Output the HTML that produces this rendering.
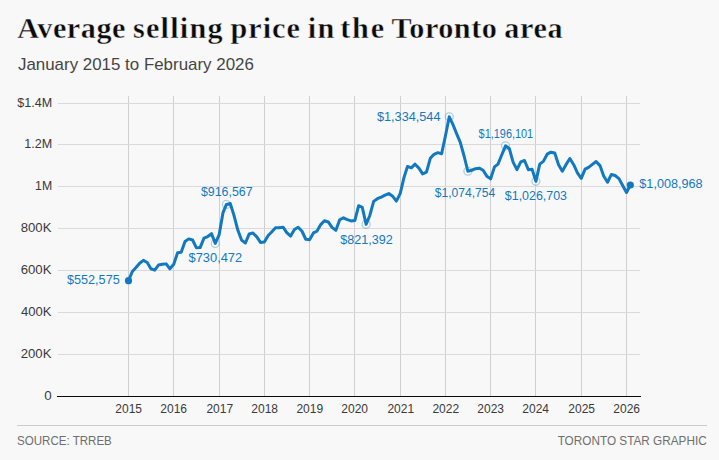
<!DOCTYPE html>
<html><head><meta charset="utf-8"><title>Average selling price in the Toronto area</title>
<style>
html,body{margin:0;padding:0;background:#f8f8f8;}
body{width:719px;height:460px;position:relative;overflow:hidden;font-family:"Liberation Sans",sans-serif;}
svg{position:absolute;left:0;top:0;display:block;}
svg text{white-space:pre;}
#rule{position:absolute;left:17px;top:425px;width:690px;height:1px;background:#cccccc;}
</style></head><body>
<svg width="719" height="460" viewBox="0 0 719 460">
<rect x="128" y="96" width="1" height="300" fill="#cfcfcf"/>
<rect x="173" y="96" width="1" height="300" fill="#cfcfcf"/>
<rect x="219" y="96" width="1" height="300" fill="#cfcfcf"/>
<rect x="264" y="96" width="1" height="300" fill="#cfcfcf"/>
<rect x="309" y="96" width="1" height="300" fill="#cfcfcf"/>
<rect x="354" y="96" width="1" height="300" fill="#cfcfcf"/>
<rect x="400" y="96" width="1" height="300" fill="#cfcfcf"/>
<rect x="445" y="96" width="1" height="300" fill="#cfcfcf"/>
<rect x="490" y="96" width="1" height="300" fill="#cfcfcf"/>
<rect x="535" y="96" width="1" height="300" fill="#cfcfcf"/>
<rect x="581" y="96" width="1" height="300" fill="#cfcfcf"/>
<rect x="626" y="96" width="1" height="300" fill="#cfcfcf"/>
<rect x="58" y="354" width="582" height="1" fill="#dadada"/>
<rect x="58" y="312" width="582" height="1" fill="#dadada"/>
<rect x="58" y="270" width="582" height="1" fill="#dadada"/>
<rect x="58" y="228" width="582" height="1" fill="#dadada"/>
<rect x="58" y="186" width="582" height="1" fill="#dadada"/>
<rect x="58" y="144" width="582" height="1" fill="#dadada"/>
<rect x="58" y="103" width="582" height="1" fill="#dadada"/>
<rect x="57" y="396" width="584" height="1" fill="#0a0a0a"/>
<text x="17.25" y="38.30" letter-spacing="0.517" stroke="#f8f8f8" stroke-width="0.4" font-family="Liberation Serif" font-size="30.2" font-weight="bold" fill="#0a0a0a">Average</text>
<text x="133.00" y="38.30" letter-spacing="1.217" stroke="#f8f8f8" stroke-width="0.4" font-family="Liberation Serif" font-size="30.2" font-weight="bold" fill="#0a0a0a">selling</text>
<text x="230.50" y="38.30" letter-spacing="1.000" stroke="#f8f8f8" stroke-width="0.4" font-family="Liberation Serif" font-size="30.2" font-weight="bold" fill="#0a0a0a">price</text>
<text x="307.75" y="38.30" letter-spacing="1.300" stroke="#f8f8f8" stroke-width="0.4" font-family="Liberation Serif" font-size="30.2" font-weight="bold" fill="#0a0a0a">in</text>
<text x="340.30" y="38.30" letter-spacing="1.750" stroke="#f8f8f8" stroke-width="0.4" font-family="Liberation Serif" font-size="30.2" font-weight="bold" fill="#0a0a0a">the</text>
<text x="391.50" y="38.30" letter-spacing="0.492" stroke="#f8f8f8" stroke-width="0.4" font-family="Liberation Serif" font-size="30.2" font-weight="bold" fill="#0a0a0a">Toronto</text>
<text x="504.20" y="38.30" letter-spacing="0.667" stroke="#f8f8f8" stroke-width="0.4" font-family="Liberation Serif" font-size="30.2" font-weight="bold" fill="#0a0a0a">area</text>
<text transform="translate(17.94,69.50) scale(1.0574,1)" font-family="Liberation Sans" font-size="16" fill="#454545">January 2015 to February 2026</text>
<text transform="translate(44.24,400.20) scale(1.1130,1)" font-family="Liberation Sans" font-size="12" fill="#3a3a3a">0</text>
<text transform="translate(20.75,358.20) scale(1.0972,1)" font-family="Liberation Sans" font-size="12" fill="#3a3a3a">200K</text>
<text transform="translate(21.03,316.20) scale(1.0873,1)" font-family="Liberation Sans" font-size="12" fill="#3a3a3a">400K</text>
<text transform="translate(20.75,274.20) scale(1.0972,1)" font-family="Liberation Sans" font-size="12" fill="#3a3a3a">600K</text>
<text transform="translate(20.75,232.20) scale(1.0972,1)" font-family="Liberation Sans" font-size="12" fill="#3a3a3a">800K</text>
<text transform="translate(35.08,190.20) scale(1.0237,1)" font-family="Liberation Sans" font-size="12" fill="#3a3a3a">1M</text>
<text transform="translate(24.25,148.20) scale(1.0465,1)" font-family="Liberation Sans" font-size="12" fill="#3a3a3a">1.2M</text>
<text transform="translate(17.24,107.20) scale(1.0450,1)" font-family="Liberation Sans" font-size="12" fill="#3a3a3a">$1.4M</text>
<text transform="translate(115.32,413.30) scale(1.0000,1)" font-family="Liberation Sans" font-size="12" fill="#3a3a3a">2015</text>
<text transform="translate(160.32,413.30) scale(1.0000,1)" font-family="Liberation Sans" font-size="12" fill="#3a3a3a">2016</text>
<text transform="translate(206.45,413.30) scale(1.0000,1)" font-family="Liberation Sans" font-size="12" fill="#3a3a3a">2017</text>
<text transform="translate(251.32,413.30) scale(1.0000,1)" font-family="Liberation Sans" font-size="12" fill="#3a3a3a">2018</text>
<text transform="translate(296.45,413.30) scale(1.0000,1)" font-family="Liberation Sans" font-size="12" fill="#3a3a3a">2019</text>
<text transform="translate(341.32,413.30) scale(1.0000,1)" font-family="Liberation Sans" font-size="12" fill="#3a3a3a">2020</text>
<text transform="translate(387.45,413.30) scale(1.0000,1)" font-family="Liberation Sans" font-size="12" fill="#3a3a3a">2021</text>
<text transform="translate(432.45,413.30) scale(1.0000,1)" font-family="Liberation Sans" font-size="12" fill="#3a3a3a">2022</text>
<text transform="translate(477.32,413.30) scale(1.0000,1)" font-family="Liberation Sans" font-size="12" fill="#3a3a3a">2023</text>
<text transform="translate(522.33,413.30) scale(1.0000,1)" font-family="Liberation Sans" font-size="12" fill="#3a3a3a">2024</text>
<text transform="translate(568.33,413.30) scale(1.0000,1)" font-family="Liberation Sans" font-size="12" fill="#3a3a3a">2025</text>
<text transform="translate(613.33,413.30) scale(1.0000,1)" font-family="Liberation Sans" font-size="12" fill="#3a3a3a">2026</text>
<text transform="translate(66.94,284.20) scale(1.0558,1)" font-family="Liberation Sans" font-size="12" fill="#1279c0">$552,575</text>
<text transform="translate(188.53,262.30) scale(1.0721,1)" font-family="Liberation Sans" font-size="12" fill="#1279c0">$730,472</text>
<text transform="translate(200.94,195.90) scale(1.0335,1)" font-family="Liberation Sans" font-size="12" fill="#1279c0">$916,567</text>
<text transform="translate(340.14,244.10) scale(1.0497,1)" font-family="Liberation Sans" font-size="12" fill="#1279c0">$821,392</text>
<text transform="translate(376.94,120.90) scale(1.0588,1)" font-family="Liberation Sans" font-size="12" fill="#1279c0">$1,334,544</text>
<text transform="translate(478.62,138.00) scale(0.9089,1)" font-family="Liberation Sans" font-size="12" fill="#1279c0">$1,196,101</text>
<text transform="translate(434.75,197.00) scale(1.0067,1)" font-family="Liberation Sans" font-size="12" fill="#1279c0">$1,074,754</text>
<text transform="translate(504.84,199.70) scale(1.0363,1)" font-family="Liberation Sans" font-size="12" fill="#1279c0">$1,026,703</text>
<text transform="translate(639.34,187.80) scale(1.0532,1)" font-family="Liberation Sans" font-size="12" fill="#1279c0">$1,008,968</text>
<text transform="translate(17.02,445.00) scale(0.9645,1)" font-family="Liberation Sans" font-size="12" fill="#6e6e6e">SOURCE: TRREB</text>
<text transform="translate(557.65,445.20) scale(0.9812,1)" font-family="Liberation Sans" font-size="12" fill="#6e6e6e">TORONTO STAR GRAPHIC</text>
<circle cx="215.26" cy="243.38" r="3.95" fill="#ffffff" fill-opacity="0.5" stroke="#1279c0" stroke-opacity="0.33" stroke-width="1.3"/>
<circle cx="226.41" cy="204.38" r="3.95" fill="#ffffff" fill-opacity="0.5" stroke="#1279c0" stroke-opacity="0.33" stroke-width="1.3"/>
<circle cx="366.10" cy="224.33" r="3.95" fill="#ffffff" fill-opacity="0.5" stroke="#1279c0" stroke-opacity="0.33" stroke-width="1.3"/>
<circle cx="449.26" cy="116.80" r="3.95" fill="#ffffff" fill-opacity="0.5" stroke="#1279c0" stroke-opacity="0.33" stroke-width="1.3"/>
<circle cx="467.85" cy="171.24" r="3.95" fill="#ffffff" fill-opacity="0.5" stroke="#1279c0" stroke-opacity="0.33" stroke-width="1.3"/>
<circle cx="505.53" cy="145.81" r="3.95" fill="#ffffff" fill-opacity="0.5" stroke="#1279c0" stroke-opacity="0.33" stroke-width="1.3"/>
<circle cx="535.90" cy="181.30" r="3.95" fill="#ffffff" fill-opacity="0.5" stroke="#1279c0" stroke-opacity="0.33" stroke-width="1.3"/>
<path d="M128.50,280.66L132.34,271.52L135.81,267.80L139.65,263.19L143.37,260.33L147.22,262.51L150.93,268.78L154.78,270.17L158.62,264.98L162.34,264.25L166.18,263.87L169.90,268.81L173.74,264.20L177.58,252.85L181.18,252.24L185.02,241.58L188.74,238.89L192.58,240.01L196.30,247.71L200.14,247.58L203.98,238.08L207.70,236.57L211.54,233.70L215.26,243.38L219.10,234.94L222.94,212.89L226.41,204.38L230.26,203.50L233.97,215.42L237.82,230.09L241.54,240.08L245.38,243.00L249.22,233.93L252.94,232.98L256.78,236.82L260.50,242.43L264.34,242.06L268.18,235.55L271.65,232.05L275.50,227.85L279.21,227.70L283.06,227.16L286.77,232.55L290.62,236.09L294.46,229.48L298.18,227.27L302.02,231.25L305.74,239.25L309.58,239.64L313.42,232.92L316.89,231.25L320.73,224.59L324.45,220.73L328.29,221.96L332.01,227.39L335.86,230.36L339.70,219.78L343.42,217.88L347.26,219.67L350.98,220.89L354.82,220.56L358.66,205.70L362.26,207.29L366.10,224.33L369.82,215.48L373.66,201.39L377.38,198.70L381.22,197.08L385.06,195.12L388.78,193.54L392.62,196.20L396.34,201.10L400.18,193.63L404.02,177.37L407.49,166.46L411.34,167.83L415.05,164.17L418.90,168.14L422.61,173.85L426.46,172.04L430.30,158.34L434.02,154.35L437.86,152.68L441.58,153.82L445.42,136.02L449.26,116.80L452.73,124.06L456.58,133.58L460.29,142.31L464.14,156.25L467.85,171.24L471.70,170.24L475.54,168.72L479.26,168.16L483.10,170.26L486.82,176.17L490.66,178.80L494.50,166.86L497.97,164.14L501.81,154.78L505.53,145.81L509.37,148.74L513.09,162.09L516.94,169.61L520.78,161.87L524.50,160.51L528.34,169.68L532.06,169.15L535.90,181.30L539.74,164.12L543.33,161.42L547.18,154.18L550.90,152.18L554.74,152.92L558.46,164.56L562.30,171.30L566.14,164.42L569.86,158.57L573.70,164.68L577.42,172.82L581.26,178.31L585.10,169.18L588.57,167.36L592.42,164.38L596.13,161.57L599.98,165.59L603.69,176.06L607.54,182.26L611.38,174.46L615.10,175.51L618.94,178.63L622.66,185.49L626.50,192.50L630.34,185.02" fill="none" stroke="#1279c0" stroke-width="3" stroke-linejoin="round" stroke-linecap="round"/>
<circle cx="128.50" cy="280.66" r="3.6" fill="#1279c0"/>
<circle cx="630.34" cy="185.02" r="3.6" fill="#1279c0"/>
</svg>
<div id="rule"></div>
</body></html>
